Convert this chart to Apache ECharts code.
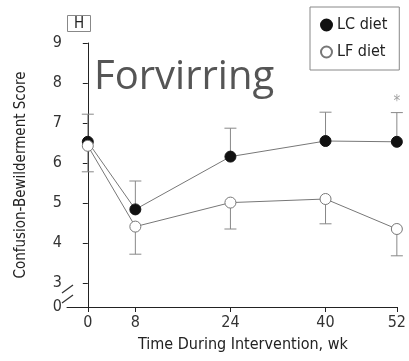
<!DOCTYPE html>
<html>
<head>
<meta charset="utf-8">
<script src="https://cdn.jsdelivr.net/npm/echarts@6/dist/echarts.min.js"></script>
<style>
  html, body { margin: 0; padding: 0; background: #fff; }
  #chart { width: 409px; height: 361px; }
</style>
</head>
<body>
<div id="chart"></div>
<script>
// weeks of intervention
var weeks = [0, 8, 24, 40, 52];
// mean scores
var lcMean = [6.53, 4.84, 6.16, 6.55, 6.53];
var lfMean = [6.43, 4.41, 5.01, 5.10, 4.35];
// error bar ends (LC upward, LF downward)
var lcUpper = [7.22, 5.55, 6.87, 7.27, 7.26];
var lfLower = [5.78, 3.72, 4.35, 4.48, 3.68];
// significance mark
var sigMarks = [[52, 7.52]];
// y tick labels (0 sits below the axis break)
var yTicks = [0, 3, 4, 5, 6, 7, 8, 9];
var breakPos = 2.4; // where the 0 tick is drawn

var font = "'Liberation Sans Narrow', 'DejaVu Sans Condensed', sans-serif";
var grey = "#777";

function pairs(a, b) {
  return weeks.map(function (w, i) { return [w, a[i], b ? b[i] : null]; });
}

function errorBar(params, api) {
  var x = api.value(0);
  var p1 = api.coord([x, api.value(1)]);
  var p2 = api.coord([x, api.value(2)]);
  var half = 6;
  return {
    type: "group",
    children: [
      { type: "line", shape: { x1: p1[0], y1: p1[1], x2: p2[0], y2: p2[1] }, style: { stroke: "#888", lineWidth: 1 } },
      { type: "line", shape: { x1: p2[0] - half, y1: p2[1], x2: p2[0] + half, y2: p2[1] }, style: { stroke: "#888", lineWidth: 1 } }
    ]
  };
}

var myChart = echarts.init(document.getElementById("chart"));

var option = {
  animation: false,
  textStyle: { fontFamily: font },
  grid: { left: 67, right: 10, top: 43, bottom: 54 },
  legend: {
    orient: "vertical",
    left: 310,
    top: 7,
    width: 89,
    padding: [10, 12, 10, 10],
    itemGap: 11,
    itemWidth: 11,
    itemHeight: 11,
    borderColor: "#888",
    borderWidth: 1,
    borderRadius: 0,
    textStyle: { fontFamily: font, fontSize: 16, color: "#222" },
    data: [
      { name: "LC diet", icon: "circle" },
      { name: "LF diet", icon: "circle" }
    ]
  },
  xAxis: {
    type: "value",
    min: -3.5,
    max: 52,
    name: "Time During Intervention, wk",
    nameLocation: "middle",
    nameGap: 30,
    nameTextStyle: { fontFamily: font, fontSize: 16, color: "#222", padding: [0, 0, 0, 22] },
    splitLine: { show: false },
    axisLine: { lineStyle: { color: "#222", width: 1 } },
    axisTick: { customValues: weeks, length: 5, lineStyle: { color: "#222" } },
    axisLabel: { customValues: weeks, fontSize: 16, color: "#333", margin: 8 }
  },
  yAxis: {
    type: "value",
    min: breakPos,
    max: 9,
    name: "Confusion-Bewilderment Score",
    nameLocation: "middle",
    nameGap: 38,
    nameTextStyle: { fontFamily: font, fontSize: 15, color: "#222" },
    splitLine: { show: false },
    axisLine: { show: true, lineStyle: { color: "#222", width: 1 } },
    axisTick: {
      show: true,
      customValues: yTicks.map(function (v) { return v === 0 ? breakPos : v; }),
      length: 5,
      lineStyle: { color: "#222" }
    },
    axisLabel: {
      customValues: yTicks.map(function (v) { return v === 0 ? breakPos : v; }),
      fontSize: 16,
      color: "#333",
      margin: 5,
      formatter: function (v) { return v < 3 ? "0" : String(v); }
    }
  },
  graphic: [
    // axis break
    { type: "rect", shape: { x: 64, y: 289, width: 6, height: 10 }, style: { fill: "#fff" }, z: 100 },
    { type: "line", shape: { x1: 62, y1: 293, x2: 73, y2: 285 }, style: { stroke: "#333", lineWidth: 1.2 }, z: 101 },
    { type: "line", shape: { x1: 62, y1: 303, x2: 73, y2: 295 }, style: { stroke: "#333", lineWidth: 1.2 }, z: 101 },
    // panel letter
    { type: "rect", shape: { x: 67.5, y: 15.5, width: 23, height: 16 }, style: { fill: "#fff", stroke: "#888", lineWidth: 1 }, z: 100 },
    { type: "text", x: 79, y: 24, style: { text: "H", font: "15px " + font, fill: "#222", align: "center", verticalAlign: "middle" }, z: 101 },
    // overlay caption
    { type: "text", x: 94, y: 78, style: { text: "Forvirring", font: "40px 'Open Sans', sans-serif", fill: "#555", align: "left", verticalAlign: "middle" }, z: 101 }
  ],
  series: [
    {
      type: "custom",
      renderItem: errorBar,
      data: pairs(lcMean, lcUpper),
      encode: { x: 0, y: [1, 2] },
      silent: true,
      z: 1
    },
    {
      type: "custom",
      renderItem: errorBar,
      data: pairs(lfMean, lfLower),
      encode: { x: 0, y: [1, 2] },
      silent: true,
      z: 1
    },
    {
      name: "LC diet",
      type: "line",
      data: pairs(lcMean).map(function (d) { return [d[0], d[1]]; }),
      symbol: "circle",
      symbolSize: 11,
      lineStyle: { color: grey, width: 1 },
      itemStyle: { color: "#111", borderColor: "#111", borderWidth: 1 },
      z: 3
    },
    {
      name: "LF diet",
      type: "line",
      data: pairs(lfMean).map(function (d) { return [d[0], d[1]]; }),
      symbol: "circle",
      symbolSize: 11,
      lineStyle: { color: grey, width: 1 },
      itemStyle: { color: "#fff", borderColor: "#777", borderWidth: 1 },
      z: 3
    },
    {
      type: "scatter",
      data: sigMarks,
      symbolSize: 0,
      label: { show: true, position: "inside", formatter: "*", fontSize: 15, color: "#888" },
      silent: true
    }
  ]
};

myChart.setOption(option);
</script>
</body>
</html>
